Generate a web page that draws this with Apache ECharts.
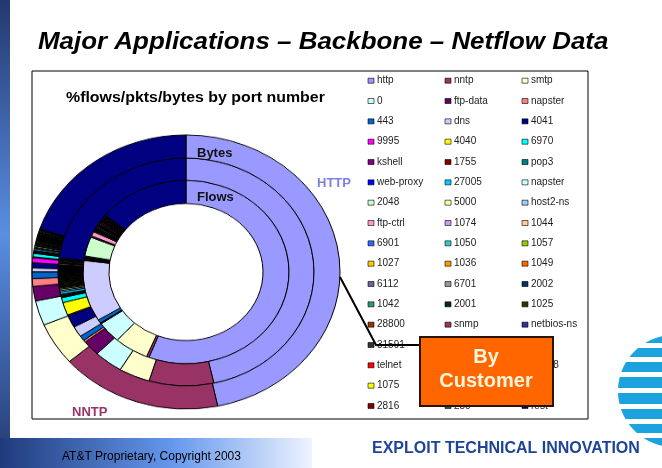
<!DOCTYPE html>
<html>
<head>
<meta charset="utf-8">
<script src="https://cdn.jsdelivr.net/npm/echarts@6/dist/echarts.min.js"></script>
<style>
  html, body { margin: 0; padding: 0; background: #fff; }
  /* the original pie is a little squashed vertically, so the ring chart gets its own canvas */
  #donut { position: absolute; left: 26px; top: 112px; width: 320px; height: 320px; transform: scaleY(0.89); transform-origin: 50% 50%; }
  #main { position: absolute; left: 0; top: 0; width: 662px; height: 468px; }
</style>
</head>
<body>
<div id="donut"></div>
<div id="main"></div>
<script>
// port names, in legend order (row by row, 3 per row)
const ports = [
  'http', 'nntp', 'smtp',
  '0', 'ftp-data', 'napster',
  '443', 'dns', '4041',
  '9995', '4040', '6970',
  'kshell', '1755', 'pop3',
  'web-proxy', '27005', 'napster',
  '2048', '5000', 'host2-ns',
  'ftp-ctrl', '1074', '1044',
  '6901', '1050', '1057',
  '1027', '1036', '1049',
  '6112', '6701', '2002',
  '1042', '2001', '1025',
  '28800', 'snmp', 'netbios-ns',
  '31591', '6667', '1214',
  'telnet', 'imap', '20048',
  '1075', '1028', '6346',
  '2816', '250', 'rest'
]
const portColors = [
  '#9999FF', '#993366', '#FFFFCC', '#CCFFFF', '#660066', '#FF8080', '#0066CC', '#CCCCFF',
  '#000080', '#FF00FF', '#FFFF00', '#00FFFF', '#800080', '#800000', '#008080', '#0000FF',
  '#00CCFF', '#CCFFFF', '#CCFFCC', '#FFFF99', '#99CCFF', '#FF99CC', '#CC99FF', '#FFCC99',
  '#3366FF', '#33CCCC', '#99CC00', '#FFCC00', '#FF9900', '#FF6600', '#666699', '#969696',
  '#003366', '#339966', '#003300', '#333300', '#993300', '#993366', '#333399', '#333333',
  '#000000', '#FFFFFF', '#FF0000', '#00FF00', '#0000FF', '#FFFF00', '#FF00FF', '#00FFFF',
  '#800000', '#008000', '#000080'
]
// % of flows (inner ring)
const flowsPct = [
  56.0, 0.4, 5.4, 3.8, 0.1, 0.1, 0.6, 10.8, 0.15, 0.05, 0.1, 0.05,
  0.05, 0.05, 0.1, 0.05, 0.1, 0.1, 3.4, 0.15, 0.1, 0.8, 0.15, 0.1,
  0.1, 0.1, 0.08, 0.1, 0.08, 0.1, 0.2, 0.1, 0.15, 0.1, 0.12, 0.1,
  0.2, 0.12, 0.2, 0.15, 0.3, 0.1, 0.1, 0.08, 0.1, 0.08, 0.1, 0.08,
  0.1, 0.1, 14.4
]
// % of packets (middle ring)
const pktsPct = [
  46.1, 8.1, 3.9, 3.6, 2.2, 0.3, 0.7, 1.5, 1.7, 0.15, 1.8, 0.7,
  0.1, 0.12, 0.15, 0.1, 0.35, 0.2, 0.2, 0.15, 0.12, 0.1, 0.1, 0.1,
  0.1, 0.12, 0.1, 0.1, 0.08, 0.08, 0.1, 0.08, 0.12, 0.1, 0.15, 0.1,
  0.12, 0.08, 0.1, 0.12, 1.2, 0.15, 0.08, 0.1, 0.1, 0.12, 0.08, 0.1,
  0.1, 0.12, 22.8
]
// % of bytes (outer ring)
const bytesPct = [
  46.5, 16.9, 5.0, 2.9, 1.7, 0.9, 0.8, 0.45, 0.6, 0.6, 0.1, 0.4,
  0.05, 0.12, 0.1, 0.08, 0.2, 0.06, 0.1, 0.15, 0.06, 0.05, 0.08, 0.07,
  0.06, 0.08, 0.05, 0.1, 0.05, 0.06, 0.07, 0.05, 0.08, 0.06, 0.1, 0.05,
  0.08, 0.04, 0.06, 0.07, 0.12, 0.1, 0.05, 0.06, 0.08, 0.1, 0.05, 0.07,
  0.05, 0.06, 19.8
]

function ring(name, values, radius) {
  return {
    name: name,
    type: 'pie',
    radius: radius,
    center: ['50%', '50%'],
    startAngle: 90,
    clockwise: true,
    silent: true,
    label: { show: false },
    labelLine: { show: false },
    itemStyle: { borderColor: '#000', borderWidth: 1 },
    data: values.map((v, i) => ({ name: ports[i], value: v, itemStyle: { color: portColors[i] } }))
  }
}

const donut = echarts.init(document.getElementById('donut'))
donut.setOption({
  animation: false,
  series: [
    ring('Flows', flowsPct, [77, 103]),
    ring('Packets', pktsPct, [103, 128]),
    ring('Bytes', bytesPct, [128, 154])
  ]
})

// legend: swatch + name, 3 columns
const colX = [368, 445, 522]
const rowY0 = 80.7
const rowStep = 20.33
const legendEls = []
ports.forEach((p, i) => {
  const x = colX[i % 3]
  const y = rowY0 + Math.floor(i / 3) * rowStep
  legendEls.push({
    type: 'rect', shape: { x: x, y: y - 2.5, width: 6, height: 5 },
    style: { fill: portColors[i], stroke: '#000', lineWidth: 0.6 }
  })
  legendEls.push({
    type: 'text', x: x + 9, y: y,
    style: { text: p, font: '10px Arial, "Liberation Sans"', fill: '#222', verticalAlign: 'middle' }
  })
})

// globe logo stripes, clipped to a circle
const globe = { cx: 674, cy: 391, r: 56 }
const bands = [[336, 343], [348, 357], [362, 372], [377, 388], [393, 404], [409, 419], [424, 433], [438, 446]]
const logoEls = bands.map(b => {
  const pts = []
  for (let y = b[0]; y <= b[1]; y += 0.5) {
    const d = globe.r * globe.r - (y - globe.cy) * (y - globe.cy)
    pts.push([globe.cx - Math.sqrt(Math.max(d, 0)), y])
  }
  pts.push([662, b[1]], [662, b[0]])
  return { type: 'polygon', shape: { points: pts }, style: { fill: '#1CA3DE' } }
})

const main = echarts.init(document.getElementById('main'))
main.setOption({
  animation: false,
  graphic: [
    // left slide bar
    {
      type: 'rect', shape: { x: 0, y: 0, width: 10, height: 468 },
      style: { fill: new echarts.graphic.LinearGradient(0, 0, 0, 1, [
        { offset: 0, color: '#23386f' }, { offset: 0.5, color: '#5a8ee2' }, { offset: 1, color: '#23386f' }
      ]) }
    },
    // footer band
    {
      type: 'rect', shape: { x: 0, y: 438, width: 312, height: 30 },
      style: { fill: new echarts.graphic.LinearGradient(0, 0, 1, 0, [
        { offset: 0, color: '#1f3b7c' }, { offset: 0.55, color: '#6497ec' }, { offset: 1, color: '#eef3ff' }
      ]) }
    },
    {
      type: 'text', x: 38, y: 42, scaleX: 1.08,
      style: { text: 'Major Applications – Backbone – Netflow Data', font: 'italic bold 24px Arial, "Liberation Sans"', fill: '#000', verticalAlign: 'middle' }
    },
    // chart frame
    { type: 'rect', shape: { x: 32, y: 71, width: 556, height: 348 }, style: { fill: 'none', stroke: '#000', lineWidth: 1 } },
    {
      type: 'text', x: 66, y: 98, scaleX: 1.06,
      style: { text: '%flows/pkts/bytes by port number', font: 'bold 15px Arial, "Liberation Sans"', fill: '#000', verticalAlign: 'middle' }
    },
    { type: 'text', x: 197, y: 153, style: { text: 'Bytes', font: 'bold 13px Arial, "Liberation Sans"', fill: '#111', verticalAlign: 'middle' } },
    { type: 'text', x: 197, y: 197, style: { text: 'Flows', font: 'bold 13px Arial, "Liberation Sans"', fill: '#111', verticalAlign: 'middle' } },
    { type: 'text', x: 317, y: 183, style: { text: 'HTTP', font: 'bold 13px Arial, "Liberation Sans"', fill: '#7f7fe8', verticalAlign: 'middle' } },
    { type: 'text', x: 72, y: 412, style: { text: 'NNTP', font: 'bold 13px Arial, "Liberation Sans"', fill: '#993366', verticalAlign: 'middle' } },
    ...legendEls,
    // pointer to the customer box
    { type: 'polyline', shape: { points: [[340, 277], [376, 345], [420, 345]] }, style: { stroke: '#000', lineWidth: 2, fill: 'none' } },
    { type: 'rect', shape: { x: 420, y: 337, width: 133, height: 69 }, style: { fill: '#FF6600', stroke: '#2a1400', lineWidth: 2 } },
    { type: 'text', x: 486, y: 357, style: { text: 'By', font: 'bold 20px Arial, "Liberation Sans"', fill: '#fff4dc', align: 'center', verticalAlign: 'middle' } },
    { type: 'text', x: 486, y: 381, style: { text: 'Customer', font: 'bold 20px Arial, "Liberation Sans"', fill: '#fff4dc', align: 'center', verticalAlign: 'middle' } },
    ...logoEls,
    { type: 'text', x: 62, y: 457, style: { text: 'AT&T Proprietary, Copyright 2003', font: '12px Arial, "Liberation Sans"', fill: '#000', verticalAlign: 'middle' } },
    { type: 'text', x: 372, y: 449, style: { text: 'EXPLOIT TECHNICAL INNOVATION', font: 'bold 16px Arial, "Liberation Sans"', fill: '#1e4497', verticalAlign: 'middle' } }
  ]
})
</script>
</body>
</html>
